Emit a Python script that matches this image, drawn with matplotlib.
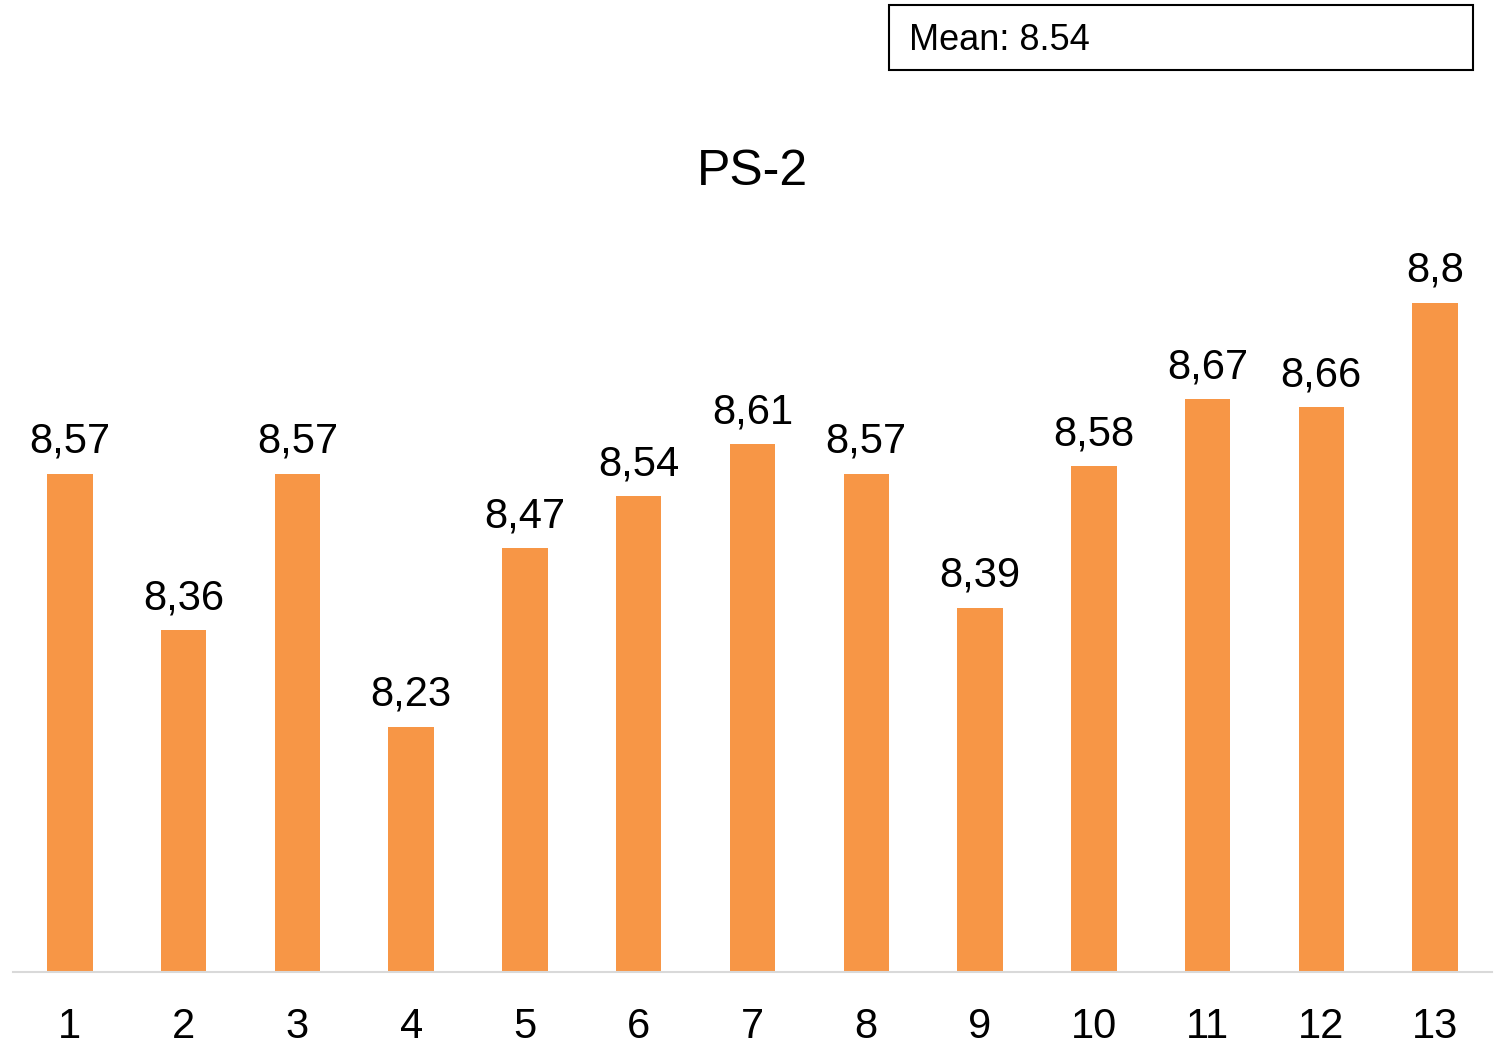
import matplotlib.pyplot as plt
from matplotlib.patches import Rectangle

plt.rcParams['font.family'] = ['Liberation Sans', 'DejaVu Sans']

categories = ['1', '2', '3', '4', '5', '6', '7', '8', '9', '10', '11', '12', '13']
values = [8.57, 8.36, 8.57, 8.23, 8.47, 8.54, 8.61, 8.57, 8.39, 8.58, 8.67, 8.66, 8.8]
labels = ['8,57', '8,36', '8,57', '8,23', '8,47', '8,54', '8,61', '8,57', '8,39', '8,58', '8,67', '8,66', '8,8']
mean_text = 'Mean: 8.54'
title = 'PS-2'

W, H = 1499, 1042
fig = plt.figure(figsize=(W / 100, H / 100), dpi=100)

# axes placed in pixel terms: x 13..1492, baseline y=972, top (9.0) ~ y=154
ax = fig.add_axes([13 / W, (H - 972) / H, (1492 - 13) / W, (972 - 154) / H])

x = list(range(1, len(values) + 1))
ax.bar(x, values, width=0.4, color='#F79646', zorder=2)
ax.set_xlim(0.5, 13.5)
ax.set_ylim(7.9, 9.0)

for xi, v, lab in zip(x, values, labels):
    ax.annotate(lab, (xi, v), xytext=(0, 8.5), textcoords='offset points',
                ha='center', va='bottom', fontsize=30)

ax.set_xticks(x)
ax.set_xticklabels(categories, fontsize=30)
ax.tick_params(axis='x', length=0, pad=25)
ax.set_yticks([])
for s in ['top', 'right', 'left']:
    ax.spines[s].set_visible(False)
ax.spines['bottom'].set_color('#D9D9D9')
ax.spines['bottom'].set_linewidth(1.5)

fig.text(752 / W, (H - 172) / H, title, ha='center', va='center', fontsize=36)

# mean box
fig.patches.append(Rectangle((889 / W, (H - 70) / H), (1473 - 889) / W, 65 / H,
                             transform=fig.transFigure, fill=False,
                             edgecolor='black', linewidth=1.5))
fig.text(909 / W, (H - 41) / H, mean_text, ha='left', va='center', fontsize=26)

fig.savefig('out.png', dpi=100)
